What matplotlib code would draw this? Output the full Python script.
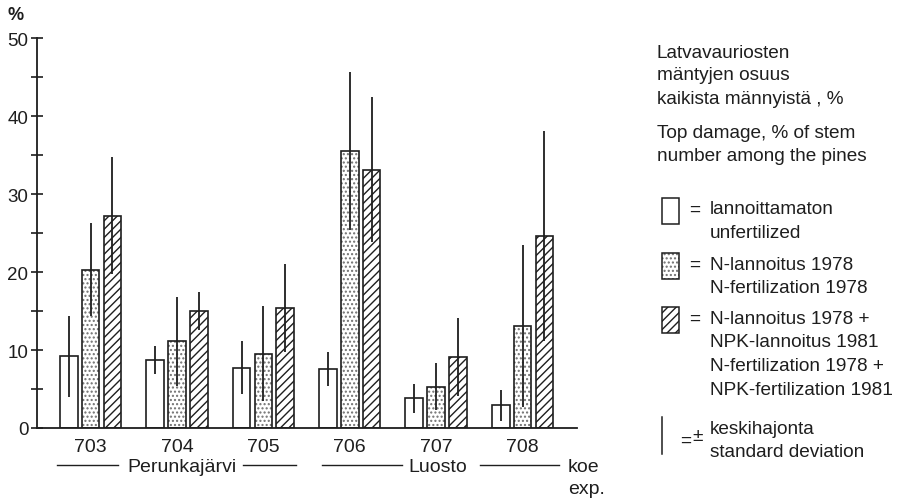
import numpy as np
import matplotlib
matplotlib.use("Agg")
import matplotlib.pyplot as plt
from matplotlib.patches import Rectangle
from matplotlib.lines import Line2D

plt.rcParams['font.family'] = ['Liberation Sans', 'DejaVu Sans']
plt.rcParams['hatch.linewidth'] = 1.0

INK = '#1e1e1e'
DOT = '#707070'

# koealat (experiments)
kokeet = ['703', '704', '705', '706', '707', '708']

# latvavaurio-% ja keskihajonta käsittelyittäin
lannoittamaton = [9.2, 8.7, 7.7, 7.6, 3.8, 2.9]
lannoittamaton_sd = [5.2, 1.8, 3.4, 2.2, 1.9, 2.0]
n_1978 = [20.3, 11.1, 9.5, 35.5, 5.3, 13.1]
n_1978_sd = [6.0, 5.7, 6.1, 10.1, 3.0, 10.4]
n_npk = [27.2, 15.0, 15.4, 33.1, 9.1, 24.6]
n_npk_sd = [7.5, 2.4, 5.6, 9.3, 5.0, 13.5]

W, H = 903, 502
fig = plt.figure(figsize=(W / 100, H / 100), dpi=100)


def fx(px):
    return px / W


def fy(py):
    return 1 - py / H


ax = fig.add_axes([fx(37), fy(429), fx(577) - fx(37), fy(39) - fy(429)])

x = np.arange(len(kokeet))
bw = 0.205
step = 0.253
# (arvot, sd, kuviointi, kuvioinnin väri)
sarjat = [
    (lannoittamaton, lannoittamaton_sd, '', INK),
    (n_1978, n_1978_sd, '....', DOT),
    (n_npk, n_npk_sd, '////', INK),
]
for i, (vals, sd, hatch, hc) in enumerate(sarjat):
    pos = x + (i - 1) * step
    # kuviointi omana kerroksenaan, jotta pisteet voivat olla harmaita
    ax.bar(pos, vals, width=bw, color='white', edgecolor=hc,
           linewidth=0, hatch=hatch, zorder=2)
    ax.bar(pos, vals, width=bw, fill=False, edgecolor=INK,
           linewidth=1.2, zorder=2.5)
    ax.errorbar(pos, vals, yerr=sd, fmt='none', ecolor=INK,
                elinewidth=1.3, capsize=0, zorder=3)

ax.set_xlim(-0.62, 5.63)
ax.set_ylim(0, 50)
for s in ['top', 'right']:
    ax.spines[s].set_visible(False)
for s in ['left', 'bottom']:
    ax.spines[s].set_color(INK)
    ax.spines[s].set_linewidth(1.3)

ax.set_yticks(np.arange(0, 51, 10))
ax.set_yticks(np.arange(5, 50, 10), minor=True)
ax.tick_params(axis='y', which='both', direction='inout', length=8.5,
               width=1.2, color=INK, labelsize=13.5, labelcolor=INK, pad=2)
ax.set_xticks(x, kokeet)
ax.tick_params(axis='x', length=0, labelsize=14, labelcolor=INK, pad=7)

fig.text(fx(16), fy(15), '%', ha='center', va='center', fontsize=13,
         fontweight='bold', color=INK)

# koealaryhmät
gfs = 14
fig.text(fx(182), fy(468), 'Perunkajärvi', ha='center', va='center',
         fontsize=gfs, color=INK)
fig.text(fx(438), fy(468), 'Luosto', ha='center', va='center',
         fontsize=gfs, color=INK)
fig.text(fx(568), fy(468), 'koe', ha='left', va='center', fontsize=gfs,
         color=INK)
fig.text(fx(568), fy(490), 'exp.', ha='left', va='center', fontsize=gfs,
         color=INK)
for x0, x1 in [(57, 118), (243, 296), (322, 402), (480, 559)]:
    fig.add_artist(Line2D([fx(x0), fx(x1)], [fy(466), fy(466)],
                          color=INK, linewidth=1.0))

# selitteet
lfs = 13.7
otsikko = [('Latvavauriosten', 53), ('mäntyjen osuus', 76),
           ('kaikista männyistä , %', 100),
           ('Top damage, % of stem', 133), ('number among the pines', 157)]
for t, yy in otsikko:
    fig.text(fx(657), fy(yy), t, ha='left', va='center', fontsize=lfs,
             color=INK)

laatikot = [(199, '', INK, ['lannoittamaton', 'unfertilized']),
            (254, '....', DOT, ['N-lannoitus 1978', 'N-fertilization 1978']),
            (308, '////', INK, ['N-lannoitus 1978 +', 'NPK-lannoitus 1981',
                                'N-fertilization 1978 +',
                                'NPK-fertilization 1981'])]
for top, hatch, hc, rivit in laatikot:
    fig.add_artist(Rectangle((fx(662), fy(top + 26)), fx(17), 26 / H,
                             facecolor='white', edgecolor=hc,
                             linewidth=0, hatch=hatch))
    fig.add_artist(Rectangle((fx(662), fy(top + 26)), fx(17), 26 / H,
                             fill=False, edgecolor=INK, linewidth=1.1))
    fig.text(fx(695), fy(top + 11), '=', ha='center', va='center',
             fontsize=lfs, color=INK)
    for j, t in enumerate(rivit):
        fig.text(fx(710), fy(top + 11 + 23.7 * j), t, ha='left',
                 va='center', fontsize=lfs, color=INK)

fig.add_artist(Line2D([fx(662), fx(662)], [fy(418), fy(455)], color=INK,
                      linewidth=1.1))
fig.text(fx(686), fy(441), '=', ha='center', va='center', fontsize=lfs,
         color=INK)
fig.text(fx(698), fy(437), '±', ha='center', va='center', fontsize=lfs,
         color=INK)
fig.text(fx(710), fy(430), 'keskihajonta', ha='left', va='center',
         fontsize=lfs, color=INK)
fig.text(fx(710), fy(453), 'standard deviation', ha='left', va='center',
         fontsize=lfs, color=INK)

fig.savefig('out.png', dpi=100, facecolor='white')
